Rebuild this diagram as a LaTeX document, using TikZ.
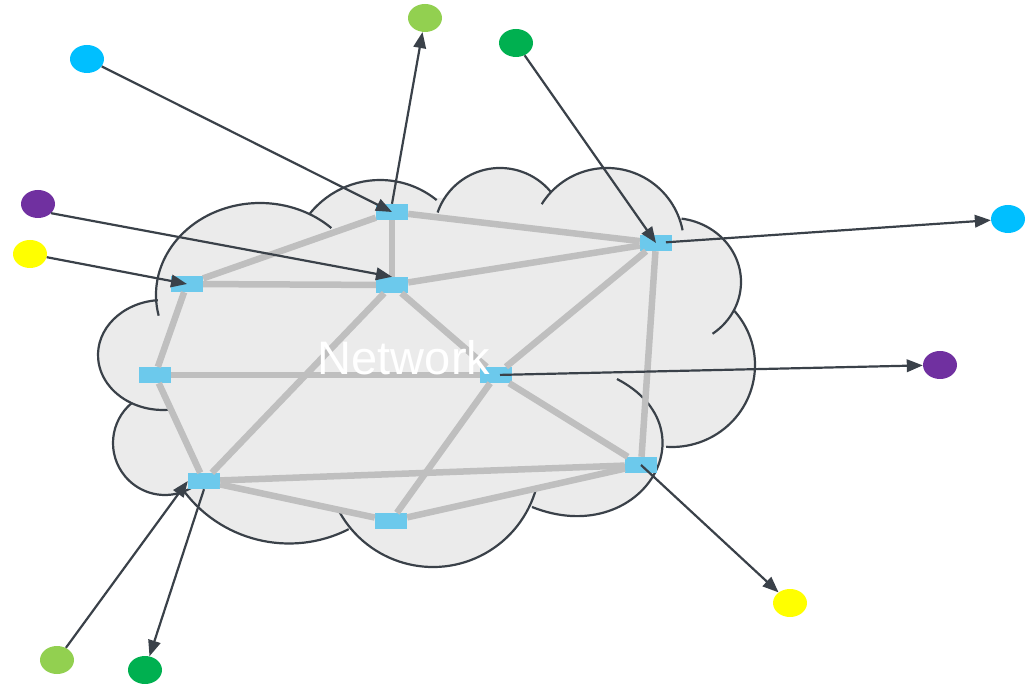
\documentclass[tikz,border=0pt]{standalone}
\usepackage{fontspec}
\setmainfont{Liberation Sans}
\usetikzlibrary{arrows.meta,shapes.geometric}
\definecolor{cloudfill}{HTML}{EBEBEB}
\definecolor{ink}{HTML}{3A4149}
\definecolor{linkgray}{HTML}{BFBFBF}
\definecolor{routerblue}{HTML}{6CC9EC}
\definecolor{cblue}{HTML}{00BFFF}
\definecolor{clime}{HTML}{92D050}
\definecolor{cgreen}{HTML}{00B050}
\definecolor{cpurple}{HTML}{7030A0}
\definecolor{cyellow}{HTML}{FFFF00}

\begin{document}
\begin{tikzpicture}[x=1pt,y=-1pt,
  router/.style={rectangle, fill=routerblue, minimum width=32pt, minimum height=16pt, inner sep=0pt},
  host/.style={ellipse, minimum width=34pt, minimum height=28pt, inner sep=0pt},
  link/.style={draw=linkgray, line width=6.5pt},
  flow/.style={draw=ink, line width=2.2pt, -{Triangle[length=16pt,width=12.5pt]}},
  rim/.style={draw=ink, line width=2.2pt},
]
\useasboundingbox (0,0) rectangle (1026,684);

% cloud body: a core polygon plus every lobe
\begin{scope}[fill=cloudfill]
  \fill (310,215) -- (438,198) -- (550,192) -- (681.7,218.3) -- (733.3,310)
        -- (666,447) -- (532,507) -- (348,530) -- (185,493) -- (131.7,402.7)
        -- (158,302) -- cycle;
  \fill (260,295) ellipse [x radius=105pt, y radius=92pt];
  \fill (380,270) circle [radius=90pt];
  \fill (500,234) circle [radius=66pt];
  \fill (607,245) circle [radius=77pt];
  \fill (672,282) ellipse [x radius=69pt, y radius=64pt];
  \fill (672,365) ellipse [x radius=83pt, y radius=82pt];
  \fill (617,379) .. controls (715,430) and (640,550) .. (532,507) -- cycle;
  \fill (433,460) circle [radius=107pt];
  \fill (289,412) circle [radius=131.5pt];
  \fill (165,443) circle [radius=52pt];
  \fill (163,355) ellipse [x radius=65pt, y radius=55pt];
\end{scope}

% cloud outline, one arc per lobe
\draw[rim] (260,295) ++(193:104pt and 92pt) arc[start angle=193, end angle=46.7, x radius=104pt, y radius=92pt];
\draw[rim] (380,270) ++(142:90pt) arc[start angle=142, end angle=51, radius=90pt];
\draw[rim] (500,234) ++(161:66pt) arc[start angle=161, end angle=40, radius=66pt];
\draw[rim] (607,245) ++(148:77pt) arc[start angle=148, end angle=11, radius=77pt];
\draw[rim] (672,282) ++(82:69pt and 64pt) arc[start angle=82, end angle=-54, x radius=69pt, y radius=64pt];
\draw[rim] (672,365) ++(42:83pt and 82pt) arc[start angle=42, end angle=-94, x radius=83pt, y radius=82pt];
\draw[rim] (617,379) .. controls (715,430) and (640,550) .. (532,507);
\draw[rim] (433,460) ++(209:107pt) arc[start angle=209, end angle=345, radius=107pt];
\draw[rim] (289,412) ++(215:131.5pt) arc[start angle=215, end angle=297, radius=131.5pt];
\draw[rim] (165,443) ++(129.6:52pt) arc[start angle=129.6, end angle=310, radius=52pt];
\draw[rim] (163,355) ++(94.6:65pt and 55pt) arc[start angle=94.6, end angle=276, x radius=65pt, y radius=55pt];

% routers
\node[router] (N1) at (392,212) {};
\node[router] (N2) at (187,284) {};
\node[router] (N3) at (392,285) {};
\node[router] (N4) at (656,243) {};
\node[router] (N5) at (155,375) {};
\node[router] (N6) at (496,375) {};
\node[router] (N7) at (204,481) {};
\node[router] (N8) at (391,521) {};
\node[router] (N9) at (641,465) {};

% links between routers
\draw[link] (N1) -- (N2);
\draw[link] (N1) -- (N3);
\draw[link] (N1) -- (N4);
\draw[link] (N2) -- (N3);
\draw[link] (N2) -- (N5);
\draw[link] (N3) -- (N4);
\draw[link] (N3) -- (N6);
\draw[link] (N3) -- (N7);
\draw[link] (N5) -- (N6);
\draw[link] (N5) -- (N7);
\draw[link] (N4) -- (N6);
\draw[link] (N4) -- (N9);
\draw[link] (N6) -- (N9);
\draw[link] (N6) -- (N8);
\draw[link] (N7) -- (N9);
\draw[link] (N7) -- (N8);
\draw[link] (N8) -- (N9);

% label
\node[text=white, font=\fontsize{47}{56}\selectfont, anchor=base, inner sep=0pt] (title) at (404,375) {Network};

% end hosts
\node[host, fill=cblue]   (c1)  at (87,59) {};
\node[host, fill=clime]   (c2)  at (425,18) {};
\node[host, fill=cgreen]  (c3)  at (516,43) {};
\node[host, fill=cpurple] (c4)  at (38,204) {};
\node[host, fill=cyellow] (c5)  at (30,254) {};
\node[host, fill=cblue]   (c6)  at (1008,219) {};
\node[host, fill=cpurple] (c7)  at (940,365) {};
\node[host, fill=cyellow] (c8)  at (790,603) {};
\node[host, fill=clime]   (c9)  at (57,660) {};
\node[host, fill=cgreen]  (c10) at (145,670) {};

% traffic flows
\draw[flow] (c1) -- (N1.center);
\draw[flow] (N1.north) -- (c2);
\draw[flow] (c3) -- (N4.center);
\draw[flow] (c4.-35) -- (N3.north);
\draw[flow] (c5) -- (N2.center);
\draw[flow, shorten <=10pt] (N4.center) -- (c6);
\draw[flow, shorten <=4pt] (N6.center) -- (c7);
\draw[flow] (N9.center) -- (c8);
\draw[flow] (c9) -- (N7.west);
\draw[flow] (N7.south) -- (c10);
\end{tikzpicture}
\end{document}
